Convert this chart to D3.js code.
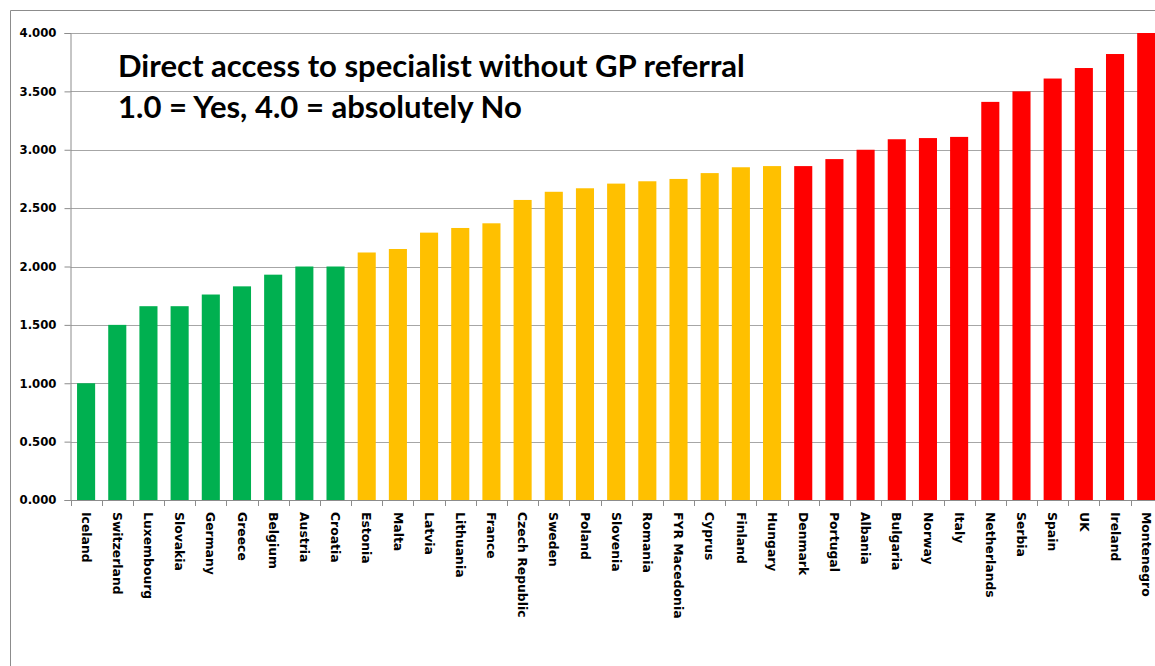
<!DOCTYPE html>
<html>
<head>
<meta charset="utf-8">
<script src="https://cdn.jsdelivr.net/npm/d3@7"></script>
<style>
  html, body { margin: 0; padding: 0; background: #fff; }
  svg { display: block; }
</style>
</head>
<body>
<svg id="chart" width="1155" height="666"></svg>
<script>
// ---- Data ----
const categories = ["Iceland","Switzerland","Luxembourg","Slovakia","Germany","Greece","Belgium","Austria","Croatia",
  "Estonia","Malta","Latvia","Lithuania","France","Czech Republic","Sweden","Poland","Slovenia","Romania","FYR Macedonia","Cyprus","Finland","Hungary",
  "Denmark","Portugal","Albania","Bulgaria","Norway","Italy","Netherlands","Serbia","Spain","UK","Ireland","Montenegro"];
const values = [1.00,1.50,1.66,1.66,1.76,1.83,1.93,2.00,2.00,
  2.12,2.15,2.29,2.33,2.37,2.57,2.64,2.67,2.71,2.73,2.75,2.80,2.85,2.86,
  2.86,2.92,3.00,3.09,3.10,3.11,3.41,3.50,3.61,3.70,3.82,4.00];
const groups = ["A","A","A","A","A","A","A","A","A",
  "B","B","B","B","B","B","B","B","B","B","B","B","B","B",
  "C","C","C","C","C","C","C","C","C","C","C","C"];
const yTicks = [0,0.5,1,1.5,2,2.5,3,3.5,4];
const titleLines = ["Direct access to specialist without GP referral", "1.0 = Yes, 4.0 = absolutely No"];

// ---- Styles ----
const groupColor = {A: "#00B050", B: "#FFC000", C: "#FF0000"};
const gridColor = "#a6a6a6";
const axisColor = "#8c8c8c";

const svg = d3.select("#chart");
const plotLeft = 70.5, plotTop = 33, plotBottom = 500;
const step = 31.18;
const x = d3.scaleBand().domain(categories)
  .range([plotLeft, plotLeft + step * categories.length])
  .paddingInner(0.42).paddingOuter(0.21);
const y = d3.scaleLinear().domain([0, 4]).range([plotBottom, plotTop]);

// Outer frame (top & left edges)
svg.append("line").attr("x1", 10.5).attr("x2", 1155).attr("y1", 10.5).attr("y2", 10.5).attr("stroke", axisColor);
svg.append("line").attr("x1", 10.5).attr("x2", 10.5).attr("y1", 10.5).attr("y2", 666).attr("stroke", axisColor);

// Gridlines
svg.append("g").selectAll("line").data(yTicks.filter(d => d > 0)).join("line")
  .attr("x1", plotLeft).attr("x2", 1155)
  .attr("y1", d => Math.round(y(d)) + 0.5).attr("y2", d => Math.round(y(d)) + 0.5)
  .attr("stroke", gridColor).attr("stroke-width", 1.2);

// Bars
svg.append("g").selectAll("rect").data(categories).join("rect")
  .attr("x", d => x(d))
  .attr("width", x.bandwidth())
  .attr("y", (d, i) => y(values[i]))
  .attr("height", (d, i) => y(0) - y(values[i]))
  .attr("fill", (d, i) => groupColor[groups[i]]);

// Y axis
const yAxis = svg.append("g").attr("transform", `translate(${plotLeft},0)`)
  .call(d3.axisLeft(y).tickValues(yTicks).tickFormat(d3.format(".3f")).tickSize(6).tickPadding(8));
yAxis.select(".domain").attr("stroke", axisColor);
yAxis.selectAll(".tick line").attr("stroke", axisColor);
yAxis.selectAll(".tick text")
  .attr("font-family", "DejaVu Sans, Verdana, sans-serif")
  .attr("font-weight", "bold").attr("font-size", "11.7px").attr("fill", "#000");

// X axis line
svg.append("line").attr("x1", plotLeft).attr("x2", 1155)
  .attr("y1", plotBottom + 0.5).attr("y2", plotBottom + 0.5).attr("stroke", axisColor);

// X boundary ticks
const bounds = categories.map(c => x(c) - (x.step() - x.bandwidth()) / 2);
svg.append("g").selectAll("line").data(bounds).join("line")
  .attr("x1", d => Math.round(d) + 0.5).attr("x2", d => Math.round(d) + 0.5)
  .attr("y1", plotBottom).attr("y2", plotBottom + 6).attr("stroke", axisColor);

// X labels (rotated, reading downward)
svg.append("g").selectAll("text").data(categories).join("text")
  .attr("transform", d => `translate(${x(d) + x.bandwidth() / 2},512) rotate(90)`)
  .attr("dy", "0.35em")
  .attr("font-family", "DejaVu Sans, Verdana, sans-serif")
  .attr("font-weight", "bold").attr("font-size", "12.4px").attr("fill", "#000")
  .text(d => d);

// Title
const title = svg.append("g");
title.selectAll("text").data(titleLines).join("text")
  .attr("x", 118).attr("y", (d, i) => 77 + i * 40.6)
  .attr("font-family", "Lato, 'Open Sans', sans-serif")
  .attr("font-weight", "bold").attr("font-size", "27px").attr("fill", "#000")
  .text(d => d);
// fit first line width to reference (~627px)
const w0 = title.select("text").node().getComputedTextLength();
const fs = 27 * 627 / w0;
title.selectAll("text").attr("font-size", fs + "px");
</script>
</body>
</html>
